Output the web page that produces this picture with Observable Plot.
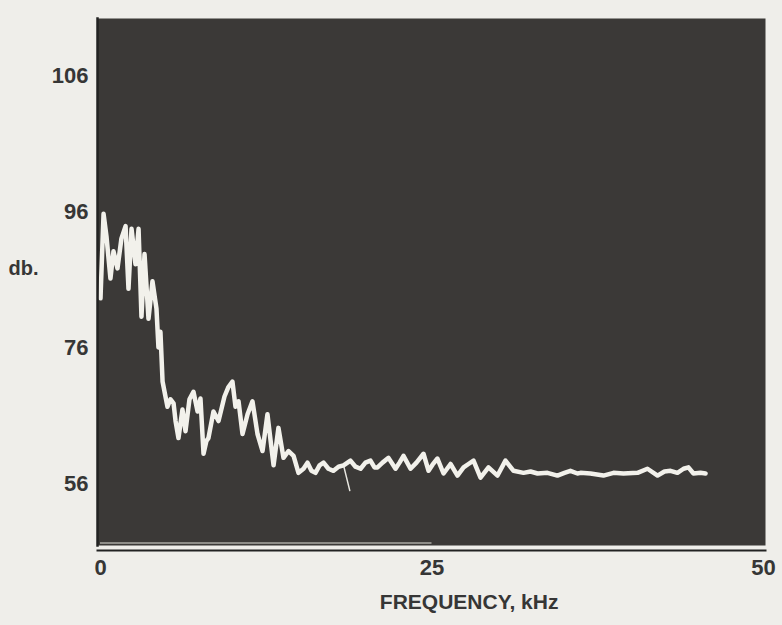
<!DOCTYPE html>
<html>
<head>
<meta charset="utf-8">
<script src="https://cdn.jsdelivr.net/npm/d3@7"></script>
<script src="https://cdn.jsdelivr.net/npm/@observablehq/plot@0.6"></script>
<style>
  html, body { margin: 0; padding: 0; background: #efeeea; }
  #chart { width: 782px; height: 625px; }
</style>
</head>
<body>
<div id="chart"></div>
<script>
// Frequency (kHz) and level (db)
const freq = [0, 0.23, 0.45, 0.75, 0.98, 1.28, 1.58, 1.89, 2.11, 2.34, 2.64, 2.87, 3.09, 3.32, 3.62, 3.92, 4.22, 4.37, 4.52, 4.68,
  4.90, 5.05, 5.28, 5.51, 5.66, 5.88, 6.18, 6.41, 6.71, 7.01, 7.32, 7.54, 7.77, 7.99, 8.14, 8.52, 8.90, 9.35, 9.65, 9.95,
  10.18, 10.41, 10.71, 11.09, 11.46, 11.84, 12.22, 12.59, 13.05, 13.42, 13.80, 14.18, 14.56, 14.93, 15.31, 15.61, 15.91, 16.21, 16.52, 16.82,
  17.19, 17.57, 17.95, 18.33, 18.85, 19.23, 19.61, 19.98, 20.36, 20.66, 20.89, 21.27, 21.72, 22.25, 22.55, 22.85, 23.38, 23.83, 24.36, 24.74,
  25.04, 25.41, 25.87, 26.40, 26.92, 27.38, 27.75, 28.13, 28.66, 29.26, 29.94, 30.54, 31.15, 31.90, 32.43, 32.96, 33.71, 34.46, 34.99, 35.44,
  35.97, 36.20, 36.95, 37.93, 38.69, 39.44, 40.50, 41.25, 42.01, 42.53, 42.99, 43.51, 43.97, 44.34, 44.72, 45.25, 45.63];
const level = [83.3, 95.7, 92.4, 86.2, 90.2, 87.7, 92.1, 93.9, 84.7, 93.5, 88.3, 93.5, 80.6, 89.8, 80.3, 85.8, 81.8, 76.1, 78.4, 71.1,
  68.9, 67.4, 68.5, 67.9, 65.3, 62.8, 67.0, 63.8, 68.5, 69.6, 66.7, 68.6, 60.5, 62.4, 62.8, 66.7, 65.3, 68.9, 70.3, 71.1,
  67.4, 68.2, 63.4, 66.3, 68.2, 63.4, 60.9, 66.3, 58.8, 64.3, 59.9, 60.9, 60.2, 57.7, 58.3, 59.2, 58.0, 57.7, 58.8, 59.2,
  58.3, 58.0, 58.6, 58.8, 59.5, 58.6, 58.3, 59.2, 59.5, 58.5, 58.5, 59.2, 59.9, 58.3, 59.2, 60.2, 58.3, 59.2, 60.5, 58.0,
  58.9, 59.8, 57.6, 59.0, 57.3, 58.5, 59.0, 59.5, 57.0, 58.5, 57.3, 59.5, 58.0, 57.7, 57.9, 57.6, 57.7, 57.3, 57.7, 58.0,
  57.6, 57.7, 57.6, 57.3, 57.7, 57.6, 57.7, 58.3, 57.3, 57.9, 58.0, 57.7, 58.3, 58.5, 57.6, 57.7, 57.6];
// small stray stroke below the trace near 18 kHz
const glitchFreq = [18.33, 18.8];
const glitchLevel = [58.8, 55.1];

const xTicks = [0, 25, 50];
const yTicks = [56, 76, 96, 106];   // graticule labels, one division apart on the screen
const xLabel = "FREQUENCY, kHz";
const yLabel = "db.";

// the graticule labels are one division apart: map db to screen divisions
const toDiv = d3.scaleLinear().domain(yTicks).range([0, 1, 2, 3]);

const trace = freq.map((f, i) => ({f, v: level[i]}));
const glitch = glitchFreq.map((f, i) => ({f, v: glitchLevel[i]}));

const font = "'Liberation Sans', Arial, sans-serif";
const ink = "#363636";

const chart = Plot.plot({
  width: 782,
  height: 625,
  marginLeft: 97,
  marginRight: 17,
  marginTop: 18,
  marginBottom: 80,
  style: {background: "#efeeea", fontFamily: font, color: ink, overflow: "visible"},
  x: {domain: [0, 50], range: [100, 763]},
  y: {domain: [-0.448, 3.418]},
  marks: [
    Plot.frame({fill: "#3b3937", stroke: null}),
    Plot.ruleY([-0.43], {x1: 0, x2: 25, stroke: "#d9d8d2", strokeWidth: 1.5, strokeOpacity: 0.7}),
    Plot.line(glitch, {x: "f", y: (d) => toDiv(d.v), stroke: "#e8e7e1", strokeWidth: 1.5}),
    Plot.line(trace, {x: "f", y: (d) => toDiv(d.v), stroke: "#f2f1eb", strokeWidth: 4.5, strokeLinejoin: "round", strokeLinecap: "round"}),
    Plot.axisY({ticks: yTicks.map(toDiv), tickFormat: (t) => String(Math.round(toDiv.invert(t))), tickSize: 0, tickPadding: 9, fontSize: 22, fontWeight: "bold", label: null, fill: ink}),
    Plot.axisX({ticks: xTicks, tickSize: 0, tickPadding: 14, fontSize: 22, fontWeight: "bold", label: null, fill: ink}),
    Plot.frame({anchor: "left", stroke: "#222", strokeWidth: 2.5}),
    Plot.frame({anchor: "bottom", stroke: "#222", strokeWidth: 2, dy: 5}),
    Plot.text([xLabel], {x: 27.8, frameAnchor: "bottom", dy: 63, fontSize: 21, fontWeight: "bold", fill: ink, letterSpacing: 1}),
    Plot.text([yLabel], {y: 1.58, frameAnchor: "left", textAnchor: "start", dx: -89, fontSize: 20, fontWeight: "bold", fill: ink})
  ]
});
document.getElementById("chart").append(chart);
</script>
</body>
</html>
